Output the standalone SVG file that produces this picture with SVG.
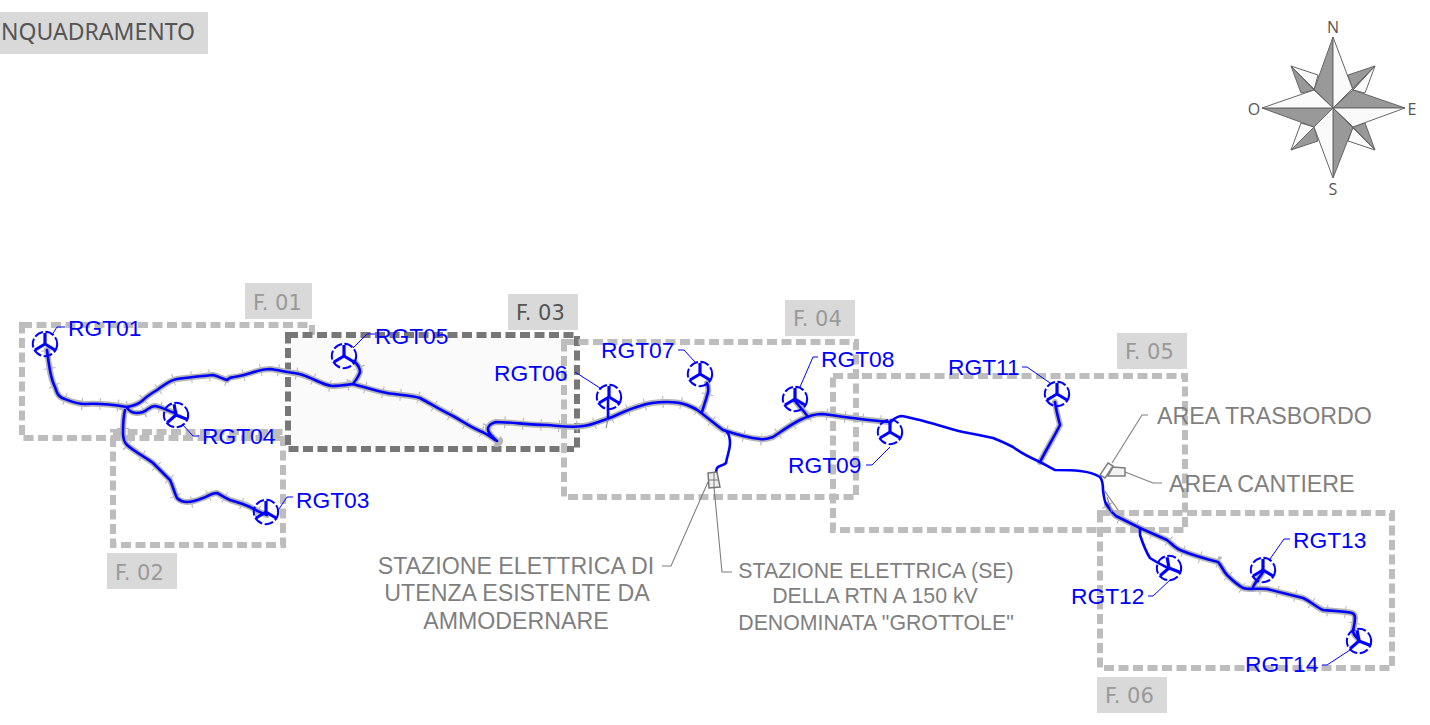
<svg xmlns="http://www.w3.org/2000/svg" width="1430" height="725" viewBox="0 0 1430 725">
<style>
.box{fill:none;stroke:#bdbdbd;stroke-width:6;stroke-dasharray:10 4.5}
.tag{fill:#d9d9d9}
.tagt{font-family:"DejaVu Sans",sans-serif;font-size:21px;fill:#999}
.r,.h,.hh{fill:none;stroke-linejoin:round;stroke-linecap:round}
.h{stroke:#b5b5b5;stroke-width:6}
.hh{stroke:#b5b5b5;stroke-width:12;stroke-dasharray:1 17;stroke-linecap:butt}
.r{stroke:#0000ff;stroke-width:2.6}
.bl{font-family:"Liberation Sans",sans-serif;font-size:22.8px;fill:#0000ff}
.gl{font-family:"Liberation Sans",sans-serif;font-size:23.2px;fill:#7f7f7f}
.gs{font-family:"Liberation Sans",sans-serif;font-size:21.3px;fill:#7f7f7f;text-anchor:middle}
.lb{fill:none;stroke:#0000ff;stroke-width:1}
.lg{fill:none;stroke:#7f7f7f;stroke-width:1.1}
.g{fill:#999;stroke:#666;stroke-width:1}
.w{fill:#fafafa;stroke:#666;stroke-width:1}
.cl{font-family:"Open Sans",sans-serif;font-size:16px;fill:#555;text-anchor:middle}
</style>
<defs>
<g id="wtg">
<circle r="12.2" fill="none" stroke="#0000ff" stroke-width="2" stroke-dasharray="9 2.5"/>
<path d="M0,0V-11M0,0L10,6M0,0L-10,6" fill="none" stroke="#0000ff" stroke-width="3.2"/>
</g>
<path id="route-a" d="M47,350C49,365 50,378 55,387C57,393 58,396 62,398C70,401 76,404 85,404C100,403 115,405 127,407"/>
<path id="route-b" d="M127,408C131,413 137,414 143,412C148,410 150,406 155,406C162,407 168,411 175,413"/>
<path id="route-c1" d="M127,407C133,406 137,405 142,401C147,396 152,393 157,390C164,385 170,380 177,379C190,377 203,376 213,375C218,376 223,379 227,380C229,378 231,377 234,377C242,376 248,374 254,372C260,370 265,369 270,369C278,370 286,372 294,373C300,374 304,375 308,377C316,380 324,385 332,386C339,386 346,385 353,384C364,387 376,391 387,393C398,395 410,395 420,398C431,404 442,411 453,416C462,421 470,427 480,431C486,433 492,438 497,441C493,437 487,433 488,428C489,424 492,423 496,422C510,422 530,425 547,425C560,426 572,428 583,426C592,425 600,421 607,419C618,415 628,409 640,406C648,403 658,402 667,402C675,402 682,403 687,405C692,407 697,409 700,412C708,418 716,425 723,430C735,434 748,438 760,439C765,440 770,438 773,437C782,431 790,425 800,420C808,416 815,414 822,414C832,415 843,417 853,418C865,420 877,421 890,422"/>
<path id="route-c2" d="M890,422C894,419 897,416 902,416C908,417 914,419 920,420C935,424 950,429 963,432C974,434 984,436 993,438C1001,441 1007,444 1013,447C1021,453 1031,458 1040,462C1046,465 1050,468 1055,470C1064,470 1072,470 1080,471C1089,472 1095,474 1100,477C1103,481 1103,486 1103,490C1104,496 1104,502 1107,505"/>
<path id="route-c3" d="M1107,505C1110,510 1112,513 1116,516C1124,520 1132,524 1140,528C1149,532 1158,536 1167,540C1172,544 1175,548 1180,550C1192,555 1206,559 1218,562C1222,566 1223,571 1227,575C1232,580 1238,585 1243,588C1250,590 1259,588 1267,589C1279,592 1291,595 1303,598C1310,601 1316,607 1323,610C1332,611 1342,611 1352,613C1355,614 1355,616 1355,618C1355,624 1353,628 1353,632C1354,635 1356,637 1358,639"/>
<path id="route-d" d="M125,410C123,418 123,426 123,433C123,438 124,442 127,445C135,452 145,457 153,463C159,469 165,475 170,480C173,486 174,492 177,498C180,501 183,502 187,502C193,502 198,500 203,498C208,496 212,493 217,493C221,495 225,498 230,500C237,502 244,504 250,507C256,510 261,513 267,515"/>
<path id="route-e" d="M353,384C356,380 359,376 360,372C360,368 358,365 355,362"/>
<path id="route-f" d="M608,419L608,400"/>
<path id="route-g" d="M702,412C704,405 707,397 708,392C709,389 708,386 707,383"/>
<path id="route-h" d="M808,417C804,411 799,406 795,401"/>
<path id="route-i" d="M1040,462C1046,450 1054,437 1060,425C1058,417 1056,410 1055,402"/>
<path id="route-j" d="M727,432C730,436 730,440 730,443C730,450 727,456 726,463C723,466 719,465 717,468C716,470 716,473 716,475"/>
<path id="route-k" d="M1253,587C1256,581 1260,577 1263,572"/>
</defs>
<rect width="1430" height="725" fill="#fff"/>

<g id="title"><rect class="tag" x="0" y="12" width="208" height="42"/><text x="1" y="40" font-family="'Noto Sans',sans-serif" font-size="24" fill="#555" textLength="194" lengthAdjust="spacingAndGlyphs">NQUADRAMENTO</text></g>

<g id="compass">
<polygon class="g" points="1348,75 1375,66 1353,90"/><polygon class="w" points="1375,66 1365,93 1353,90"/>
<polygon class="g" points="1375,150 1365,123 1353,127"/><polygon class="w" points="1375,150 1348,141 1353,127"/>
<polygon class="g" points="1291,150 1318,141 1314,127"/><polygon class="w" points="1291,150 1301,123 1314,127"/>
<polygon class="g" points="1291,66 1301,93 1314,90"/><polygon class="w" points="1291,66 1318,75 1314,90"/>
<polygon class="g" points="1333,37 1314,90 1333,108"/><polygon class="w" points="1333,37 1353,90 1333,108"/>
<polygon class="g" points="1405,108 1353,90 1333,108"/><polygon class="w" points="1405,108 1353,127 1333,108"/>
<polygon class="g" points="1333,178 1353,127 1333,108"/><polygon class="w" points="1333,178 1314,127 1333,108"/>
<polygon class="g" points="1262,108 1314,127 1333,108"/><polygon class="w" points="1262,108 1314,90 1333,108"/>
<path d="M1333,108L1375,66M1333,108L1375,150M1333,108L1291,150M1333,108L1291,66" stroke="#666" fill="none"/>
<text class="cl" x="1333" y="33">N</text><text class="cl" x="1412" y="115">E</text><text class="cl" x="1333" y="195">S</text><text class="cl" x="1254" y="115">O</text>
</g>

<g id="F01"><rect class="box" x="22" y="325" width="290" height="113"/><rect class="tag" x="245" y="283" width="67" height="36"/><text class="tagt" x="253" y="310">F. 01</text></g>
<g id="F02"><rect class="box" x="113" y="432" width="170" height="113"/><rect class="tag" x="107" y="553" width="70" height="36"/><text class="tagt" x="115" y="580">F. 02</text></g>
<g id="F03"><rect x="288" y="335" width="289" height="114" fill="#fafafa" stroke="#777" stroke-width="6" stroke-dasharray="10 4.5"/><rect class="tag" x="508" y="294" width="70" height="36"/><text class="tagt" x="516" y="320" style="fill:#555">F. 03</text></g>
<g id="F04"><rect class="box" x="564" y="342" width="292" height="155"/><rect class="tag" x="785" y="300" width="70" height="36"/><text class="tagt" x="793" y="326">F. 04</text></g>
<g id="F05"><rect class="box" x="833" y="376" width="352" height="154"/><rect class="tag" x="1117" y="333" width="70" height="36"/><text class="tagt" x="1125" y="359">F. 05</text></g>
<g id="F06"><rect class="box" x="1100" y="513" width="292" height="155"/><rect class="tag" x="1097" y="677" width="70" height="36"/><text class="tagt" x="1105" y="703">F. 06</text></g>

<g id="connectors">
<g class="h"><use href="#route-a"/><use href="#route-b"/><use href="#route-c1"/><use href="#route-c3"/><use href="#route-d"/><use href="#route-e"/><use href="#route-g"/><use href="#route-h"/><use href="#route-i"/><use href="#route-k"/></g>
<g class="hh"><use href="#route-a"/><use href="#route-b"/><use href="#route-c1"/><use href="#route-c3"/><use href="#route-d"/><use href="#route-e"/><use href="#route-g"/></g>
<g class="r"><use href="#route-a"/><use href="#route-b"/><use href="#route-c1"/><use href="#route-c2"/><use href="#route-c3"/><use href="#route-d"/><use href="#route-e"/><use href="#route-f"/><use href="#route-g"/><use href="#route-h"/><use href="#route-i"/><use href="#route-j"/><use href="#route-k"/></g>
<path class="r" d="M1140,528L1140,535C1143,544 1146,552 1150,558C1156,562 1162,565 1168,568"/>
<g class="lb">
<path d="M52,335L57,327H65"/><path d="M183,425L193,436H199"/><path d="M277,512L287,497H293"/><path d="M353,348L367,334H375"/><path d="M575,372L600,388"/><path d="M678,350H684L695,362"/><path d="M800,387L813,357H818"/><path d="M866,465H872L890,447"/><path d="M1022,367H1027L1050,383"/><path d="M1148,596H1153L1170,580"/><path d="M1270,559L1284,539H1290"/><path d="M1322,665H1327L1350,650"/>
</g>
<g class="lg">
<path d="M708,482L671,566H662"/><path d="M714,487L722,572H732"/><path d="M1148,415H1142L1112,463"/><path d="M1125,472L1153,483H1162"/><path d="M1104,490L1118,510M1107,497L1112,512M608,419L606,428"/>
</g>
</g>

<g id="RGT01"><use href="#wtg" x="45" y="344"/><text class="bl" x="68" y="336">RGT01</text></g>
<g id="RGT03"><use href="#wtg" transform="translate(266,512)"/><text class="bl" x="296" y="508">RGT03</text></g>
<g id="RGT04"><use href="#wtg" transform="translate(176,415) rotate(-10)"/><text class="bl" x="202" y="444">RGT04</text></g>
<g id="RGT05"><use href="#wtg" x="344" y="356"/><text class="bl" x="375" y="344">RGT05</text></g>
<g id="RGT06"><use href="#wtg" x="609" y="397"/><text class="bl" x="494" y="381">RGT06</text></g>
<g id="RGT07"><use href="#wtg" x="700" y="374"/><text class="bl" x="601" y="358">RGT07</text></g>
<g id="RGT08"><use href="#wtg" x="795" y="399"/><text class="bl" x="821" y="367">RGT08</text></g>
<g id="RGT09"><use href="#wtg" x="890" y="432"/><text class="bl" x="788" y="473">RGT09</text></g>
<g id="RGT11"><use href="#wtg" x="1057" y="394"/><text class="bl" x="948" y="375">RGT11</text></g>
<g id="RGT12"><use href="#wtg" transform="translate(1169,568) rotate(-10)"/><text class="bl" x="1071" y="604">RGT12</text></g>
<g id="RGT13"><use href="#wtg" x="1263" y="570"/><text class="bl" x="1293" y="548">RGT13</text></g>
<g id="RGT14"><use href="#wtg" transform="translate(1359,641) rotate(-10)"/><text class="bl" x="1245" y="672">RGT14</text></g>

<g id="SE"><polygon points="708,473 717,472 720,487 709,488" fill="#eee" stroke="#777" stroke-width="1.5"/><path d="M709,480H719M714,473V487" stroke="#777" fill="none"/></g>
<g id="aree"><polygon points="1108,463 1113,466 1105,478 1100,475" fill="#fff" stroke="#7f7f7f" stroke-width="1.5"/><polygon points="1113,467 1125,468 1125,476 1108,476" fill="#f3f3f3" stroke="#7f7f7f" stroke-width="1.5"/></g>
<g id="labels">
<text class="gl" x="1157" y="424">AREA TRASBORDO</text>
<text class="gl" x="1169" y="492">AREA CANTIERE</text>
<g style="text-anchor:middle"><text class="gl" x="516" y="574">STAZIONE ELETTRICA DI</text><text class="gl" x="517" y="601">UTENZA ESISTENTE DA</text><text class="gl" x="516" y="629">AMMODERNARE</text></g>
<text class="gs" x="876" y="578">STAZIONE ELETTRICA (SE)</text><text class="gs" x="875" y="603">DELLA RTN A 150 kV</text><text class="gs" x="876" y="630">DENOMINATA "GROTTOLE"</text>
</g>
</svg>
